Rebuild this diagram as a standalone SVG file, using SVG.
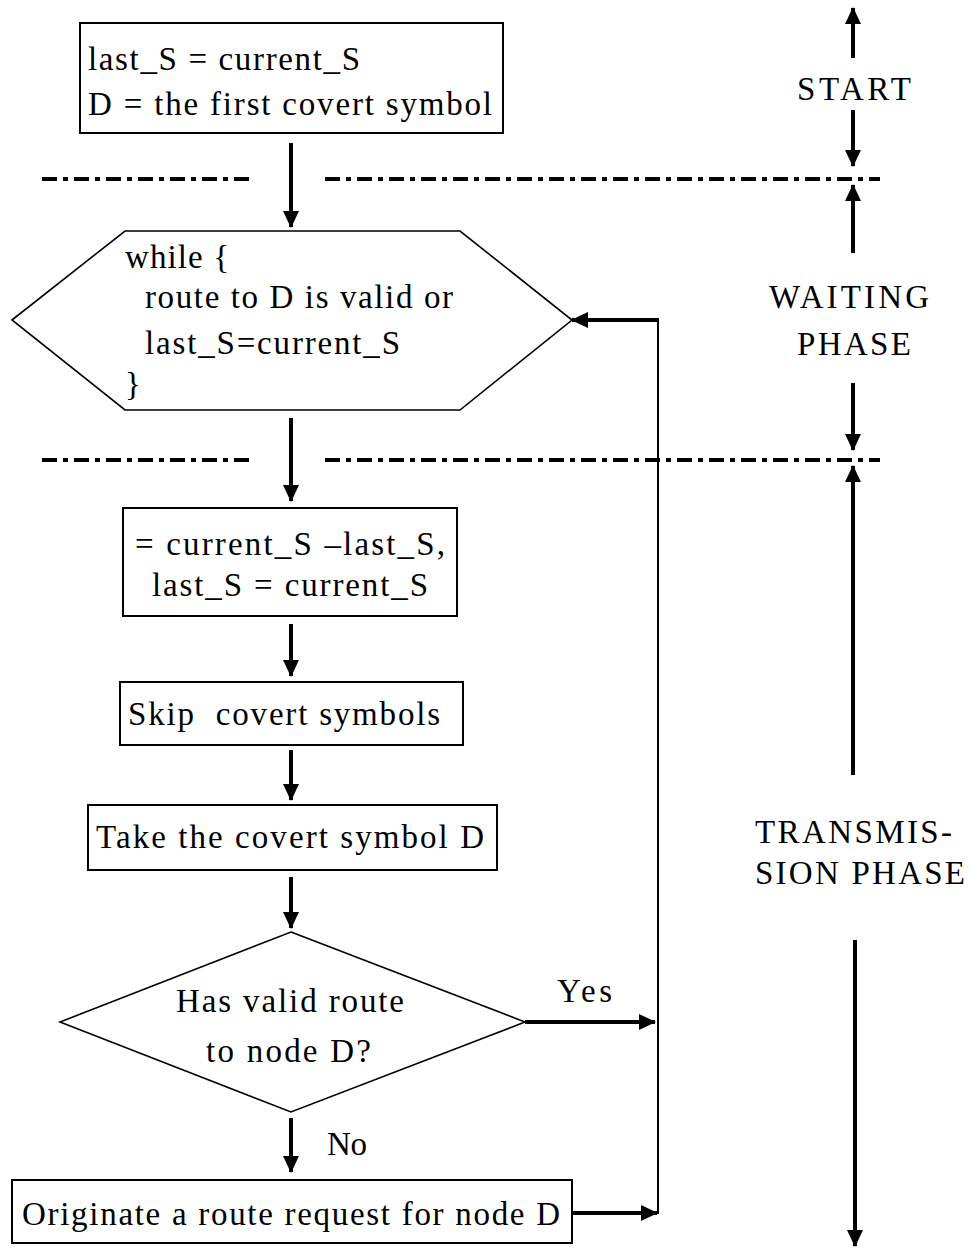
<svg xmlns="http://www.w3.org/2000/svg" width="971" height="1249" viewBox="0 0 971 1249">
<style>
text{font-family:"Liberation Serif","Times New Roman",serif;font-size:33px;fill:#000}
.box{fill:#fff;stroke:#000;stroke-width:2}
.shape{fill:#fff;stroke:#000;stroke-width:1.6}
.arr{stroke:#000;stroke-width:4;fill:none;marker-end:url(#ah)}
.thin{stroke:#000;stroke-width:2;fill:none}
.dash{stroke:#000;stroke-width:4;fill:none;stroke-dasharray:15 6 5 6}
</style>
<defs>
<marker id="ah" markerUnits="userSpaceOnUse" markerWidth="18" markerHeight="18" viewBox="0 0 18 18" refX="16" refY="9" orient="auto">
<path d="M0,1 L17,9 L0,17 z" fill="#000"/>
</marker>
</defs>
<g id="phase-lines">
<line class="dash" x1="42" y1="179" x2="255" y2="179"/>
<line class="dash" x1="325" y1="179" x2="880" y2="179"/>
<line class="dash" x1="42" y1="460" x2="255" y2="460"/>
<line class="dash" x1="325" y1="460" x2="880" y2="460"/>
</g>
<g id="connectors">
<line class="arr" x1="291" y1="143" x2="291" y2="227"/>
<line class="arr" x1="291" y1="418" x2="291" y2="501"/>
<line class="arr" x1="291" y1="624" x2="291" y2="676"/>
<line class="arr" x1="291" y1="750" x2="291" y2="800"/>
<line class="arr" x1="291" y1="877" x2="291" y2="928"/>
<line class="arr" x1="291" y1="1118" x2="291" y2="1172"/>
<line class="arr" x1="525" y1="1022" x2="655" y2="1022"/>
<line class="arr" x1="572" y1="1213" x2="657" y2="1213"/>
<line class="thin" x1="658" y1="1214" x2="658" y2="319"/>
<line class="arr" x1="659" y1="320" x2="572" y2="320"/>
</g>
<g id="n1">
<rect class="box" x="80" y="23" width="423" height="110"/>
<text x="88" y="70" textLength="272" lengthAdjust="spacing">last_S = current_S</text>
<text x="88" y="115" textLength="404" lengthAdjust="spacing">D = the first covert symbol</text>
</g>
<g id="n2">
<polygon class="shape" points="12,320 125,231 460,231 572,320 460,410 125,410"/>
<text x="125" y="268" textLength="104" lengthAdjust="spacing">while {</text>
<text x="145" y="308" textLength="308" lengthAdjust="spacing">route to D is valid or</text>
<text x="145" y="354" textLength="255" lengthAdjust="spacing">last_S=current_S</text>
<text x="125" y="395">}</text>
</g>
<g id="n3">
<rect class="box" x="123" y="508" width="334" height="108"/>
<text x="135" y="555" textLength="310" lengthAdjust="spacing">= current_S –last_S,</text>
<text x="152" y="596" textLength="276" lengthAdjust="spacing">last_S = current_S</text>
</g>
<g id="n4">
<rect class="box" x="120" y="682" width="343" height="63"/>
<text x="128" y="725" xml:space="preserve" textLength="312" lengthAdjust="spacing">Skip  covert symbols</text>
</g>
<g id="n5">
<rect class="box" x="88" y="805" width="409" height="65"/>
<text x="96" y="848" textLength="388" lengthAdjust="spacing">Take the covert symbol D</text>
</g>
<g id="n6">
<polygon class="shape" points="291,932 525,1022 291,1112 60,1022"/>
<text x="176" y="1012" textLength="228" lengthAdjust="spacing">Has valid route</text>
<text x="206" y="1062" textLength="165" lengthAdjust="spacing">to node D?</text>
</g>
<g id="n7">
<rect class="box" x="12" y="1180" width="560" height="63"/>
<text x="22" y="1225" textLength="538" lengthAdjust="spacing">Originate a route request for node D</text>
</g>
<g id="labels">
<text x="557" y="1002" textLength="55" lengthAdjust="spacing">Yes</text>
<text x="327" y="1155" textLength="40" lengthAdjust="spacing">No</text>
</g>
<g id="phases">
<line class="arr" x1="853" y1="58" x2="853" y2="8"/>
<text x="797" y="100" textLength="114" lengthAdjust="spacing">START</text>
<line class="arr" x1="853" y1="110" x2="853" y2="166"/>
<line class="arr" x1="853" y1="253" x2="853" y2="185"/>
<text x="769" y="308" textLength="160" lengthAdjust="spacing">WAITING</text>
<text x="797" y="355" textLength="114" lengthAdjust="spacing">PHASE</text>
<line class="arr" x1="853" y1="383" x2="853" y2="450"/>
<line class="arr" x1="853" y1="775" x2="853" y2="466"/>
<text x="755" y="843" textLength="197" lengthAdjust="spacing">TRANSMIS-</text>
<text x="755" y="884" textLength="210" lengthAdjust="spacing">SION PHASE</text>
<line class="arr" x1="855" y1="940" x2="855" y2="1246"/>
</g>
</svg>
